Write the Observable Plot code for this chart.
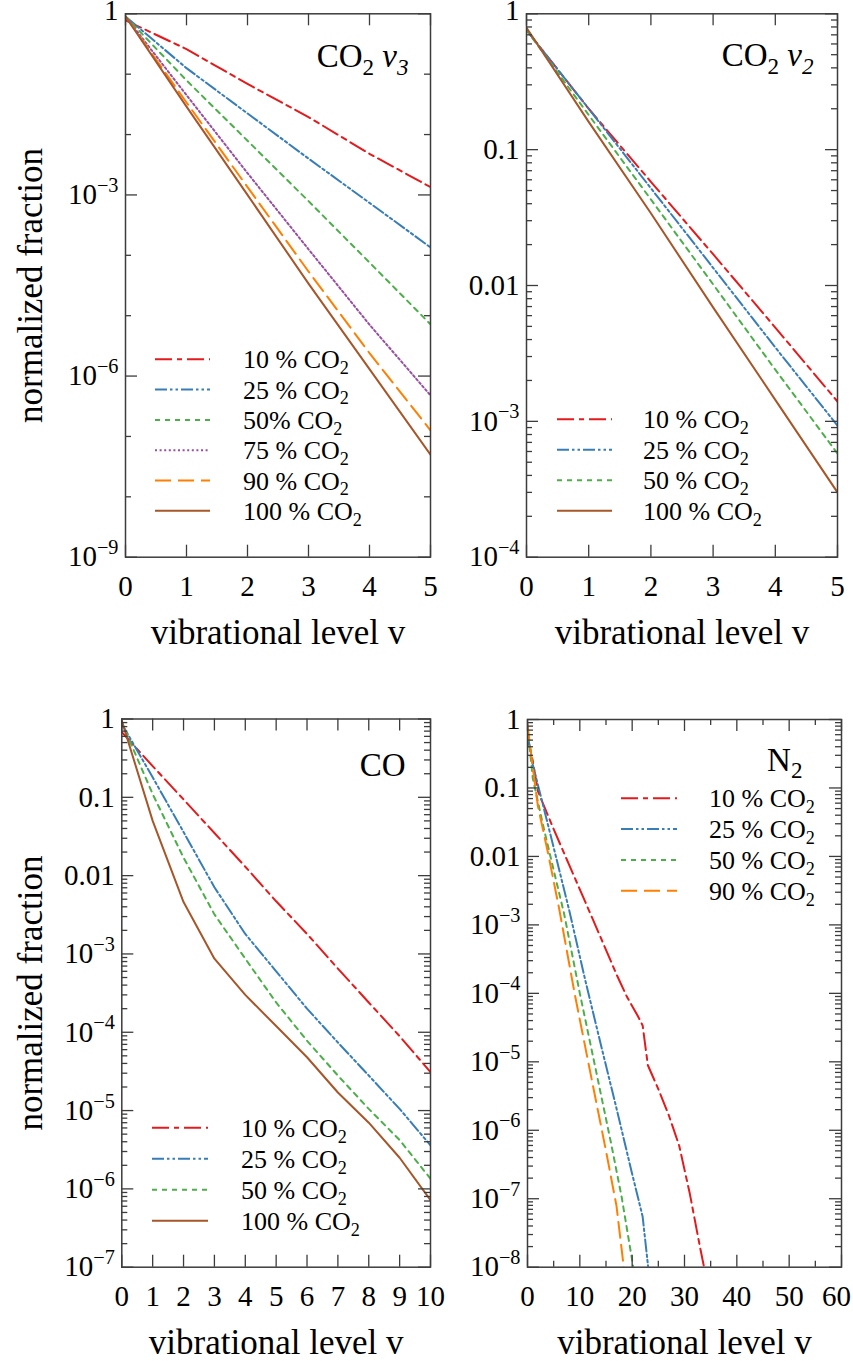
<!DOCTYPE html>
<html><head><meta charset="utf-8">
<script src="https://cdn.jsdelivr.net/npm/d3@7"></script>
<script src="https://cdn.jsdelivr.net/npm/@observablehq/plot@0.6"></script>
<style>
html,body{margin:0;padding:0;background:#fff;}
#chart{position:relative;width:853px;height:1361px;overflow:hidden;}
</style></head><body><div id="chart"></div>
<script>
// ---------------- DATA ----------------
// CO2 v3 panel (vibrational levels 0..5)
const co2v3Levels = [0, 1, 2, 3, 4, 5];
const co2v3_10  = [0.78, 0.26, 0.069, 0.0195, 4.8e-3, 1.35e-3];
const co2v3_25  = [0.9, 0.126, 0.0224, 4.0e-3, 7.4e-4, 1.35e-4];
const co2v3_50  = [0.9, 0.079, 7.9e-3, 7.9e-4, 7.6e-5, 7.2e-6];
const co2v3_75  = [0.9, 0.045, 2.3e-3, 1.26e-4, 7.1e-6, 4.8e-7];
const co2v3_90  = [0.9, 0.034, 1.35e-3, 5.4e-5, 2.4e-6, 1.26e-7];
const co2v3_100 = [0.9, 0.029, 1.0e-3, 3.4e-5, 1.3e-6, 5.0e-8];

// CO2 v2 panel (levels 0..5)
const co2v2Levels = [0, 1, 2, 3, 4, 5];
const co2v2_10  = [0.76, 0.20, 0.058, 0.017, 4.9e-3, 1.4e-3];
const co2v2_25  = [0.76, 0.20, 0.052, 0.0135, 3.5e-3, 9.3e-4];
const co2v2_50  = [0.76, 0.18, 0.043, 0.0102, 2.4e-3, 5.8e-4];
const co2v2_100 = [0.79, 0.16, 0.034, 6.9e-3, 1.44e-3, 3.0e-4];

// CO panel (levels 0..10)
const coLevels = [0, 1, 2, 3, 4, 5, 6, 7, 8, 9, 10];
const co_10  = [0.68, 0.25, 0.094, 0.035, 0.013, 4.7e-3, 1.8e-3, 6.5e-4, 2.4e-4, 8.9e-5, 3.1e-5];
const co_25  = [0.87, 0.18, 0.036, 7.1e-3, 1.8e-3, 6.0e-4, 2.0e-4, 7.4e-5, 2.8e-5, 1.05e-5, 3.6e-6];
const co_50  = [0.9, 0.11, 0.017, 3.2e-3, 8.7e-4, 2.4e-4, 7.8e-5, 2.8e-5, 1.05e-5, 4.2e-6, 1.35e-6];
const co_100 = [0.95, 0.05, 4.6e-3, 8.7e-4, 3.0e-4, 1.2e-4, 4.8e-5, 1.7e-5, 7.0e-6, 2.5e-6, 7.2e-7];

// N2 panel
const n2Levels_10 = [0, 1, 2, 5, 8, 11, 14, 17, 19, 21, 22, 23, 25, 27, 29, 31, 33, 34];
const n2_10 = [0.56, 0.25, 0.089, 0.025, 7.4e-3, 2.2e-3, 6.5e-4, 1.9e-4, 8.9e-5, 4.8e-5, 3.4e-5, 8.9e-6, 4.0e-6, 1.66e-6, 5.9e-7, 1.2e-7, 1.9e-8, 8e-9];
const n2Levels_25 = [0, 1, 3, 5, 8, 11, 14, 17, 20, 22, 23, 24];
const n2_25 = [0.63, 0.22, 0.055, 0.0135, 1.6e-3, 1.6e-4, 1.8e-5, 2.1e-6, 2.3e-7, 5.5e-8, 1.1e-8, 3e-9];
const n2Levels_50 = [0, 1, 3, 5, 7, 10, 13, 16, 18, 20, 21];
const n2_50 = [0.8, 0.14, 0.028, 6.3e-3, 1.45e-3, 1.0e-4, 8e-6, 6.3e-7, 1.05e-7, 1.26e-8, 4e-9];
const n2Levels_90 = [0, 1, 2, 4, 6, 9, 12, 15, 17, 18, 19];
const n2_90 = [0.85, 0.2, 0.054, 0.0105, 1.8e-3, 1.0e-4, 7e-6, 5e-7, 7.9e-8, 1.8e-8, 4e-9];

// Tick values and labels
const xTicks05 = [0, 1, 2, 3, 4, 5];
const xTicks010 = [0, 1, 2, 3, 4, 5, 6, 7, 8, 9, 10];
const xTicksN2 = [0, 10, 20, 30, 40, 50, 60];
const xMinorN2 = [5, 15, 25, 35, 45, 55];
const yTicksP1 = [1, 1e-3, 1e-6, 1e-9];
const yLabelsP1 = ["1", "10^−3", "10^−6", "10^−9"];
const yMinorP1 = [1e-1, 1e-2, 1e-4, 1e-5, 1e-7, 1e-8];
const yTicksP2 = [1, 0.1, 0.01, 1e-3, 1e-4];
const yLabelsP2 = ["1", "0.1", "0.01", "10^−3", "10^−4"];
const yTicksP3 = [1, 0.1, 0.01, 1e-3, 1e-4, 1e-5, 1e-6, 1e-7];
const yLabelsP3 = ["1", "0.1", "0.01", "10^−3", "10^−4", "10^−5", "10^−6", "10^−7"];
const yTicksP4 = [1, 0.1, 0.01, 1e-3, 1e-4, 1e-5, 1e-6, 1e-7, 1e-8];
const yLabelsP4 = ["1", "0.1", "0.01", "10^−3", "10^−4", "10^−5", "10^−6", "10^−7", "10^−8"];

// Legend labels
const legendP1 = ["10 % CO_2", "25 % CO_2", "50% CO_2", "75 % CO_2", "90 % CO_2", "100 % CO_2"];
const legendP2 = ["10 % CO_2", "25 % CO_2", "50 % CO_2", "100 % CO_2"];
const legendP3 = ["10 % CO_2", "25 % CO_2", "50 % CO_2", "100 % CO_2"];
const legendP4 = ["10 % CO_2", "25 % CO_2", "50 % CO_2", "90 % CO_2"];

const titles = ["CO_2 ~v_3", "CO_2 ~v_2", "CO", "N_2"];
const xTitle = "vibrational level v";
const yTitle = "normalized fraction";

// ---------------- STYLE ----------------
const FONT = '"Liberation Serif", "Times New Roman", serif';
const INK = "#3c3c3c";
const TICKFS = 29;
const lineStyle = {
  "10":  {color: "#e41a1c", dash: "17,5,5,5"},
  "25":  {color: "#377eb8", dash: "12,3,2.5,3,2.5,3"},
  "50":  {color: "#4daf4a", dash: "5,5"},
  "75":  {color: "#984ea3", dash: "2,2.6"},
  "90":  {color: "#ff7f00", dash: "16,7"},
  "100": {color: "#a65628", dash: null}
};

const NS = "http://www.w3.org/2000/svg";
function richText(el, str, fs) {
  while (el.firstChild) el.removeChild(el.firstChild);
  let italic = false, shift = 0, buf = "";
  const add = (txt, opts = {}) => {
    const t = document.createElementNS(NS, "tspan");
    t.textContent = txt;
    if (italic) t.setAttribute("font-style", "italic");
    const target = opts.shift || 0;
    if (target !== shift) { t.setAttribute("dy", target - shift); shift = target; }
    if (opts.small) t.setAttribute("font-size", fs * 0.7);
    el.appendChild(t);
  };
  const flush = () => { if (buf) { add(buf); buf = ""; } };
  for (let i = 0; i < str.length; i++) {
    const c = str[i];
    if (c === "~") { flush(); italic = !italic; }
    else if (c === "_") { flush(); add(str[++i], {shift: 0.22 * fs, small: true}); }
    else if (c === "^") { flush(); add(str.slice(i + 1), {shift: -0.42 * fs, small: true}); i = str.length; }
    else buf += c;
  }
  flush();
}

function toRows(levels, values) { return levels.map((v, i) => ({v, f: values[i]})); }

function logMinor(lo, hi) {
  const out = [];
  for (let e = Math.floor(Math.log10(lo)); e < Math.ceil(Math.log10(hi)); e++)
    for (let k = 2; k <= 9; k++) { const val = k * Math.pow(10, e); if (val > lo && val < hi) out.push(val); }
  return out;
}

const chart = document.getElementById("chart");

function panel(cfg) {
  const m = cfg.margin;
  const innerW = cfg.width - m.left - m.right;
  const innerH = cfg.height - m.top - m.bottom;
  const tk = {stroke: INK, strokeWidth: 1.3};
  const marks = [];
  for (const s of cfg.series) {
    const st = lineStyle[s.key];
    marks.push(Plot.line(toRows(s.levels, s.values), {
      x: "v", y: "f", stroke: st.color, strokeWidth: 2,
      strokeDasharray: st.dash || undefined, clip: true
    }));
  }
  const major = 12, minor = 6;
  marks.push(Plot.tickX(cfg.xTicks, {x: d => d, ...tk, insetTop: innerH - major}));
  marks.push(Plot.tickX(cfg.xTicks, {x: d => d, ...tk, insetBottom: innerH - major}));
  if (cfg.xMinor) {
    marks.push(Plot.tickX(cfg.xMinor, {x: d => d, ...tk, insetTop: innerH - minor}));
    marks.push(Plot.tickX(cfg.xMinor, {x: d => d, ...tk, insetBottom: innerH - minor}));
  }
  marks.push(Plot.tickY(cfg.yTicks, {y: d => d, ...tk, insetRight: innerW - major}));
  marks.push(Plot.tickY(cfg.yTicks, {y: d => d, ...tk, insetLeft: innerW - major}));
  marks.push(Plot.tickY(cfg.yMinor, {y: d => d, ...tk, insetRight: innerW - minor}));
  marks.push(Plot.tickY(cfg.yMinor, {y: d => d, ...tk, insetLeft: innerW - minor}));
  marks.push(Plot.frame({stroke: INK, strokeWidth: 1.5}));
  const yMap = new Map(cfg.yTicks.map((d, i) => [d, cfg.yLabels[i]]));
  marks.push(Plot.axisX(cfg.xTicks, {anchor: "bottom", tickSize: 0, tickPadding: 18, label: null, fontSize: TICKFS, tickFormat: d => String(d)}));
  marks.push(Plot.axisY(cfg.yTicks, {anchor: "left", tickSize: 0, tickPadding: 7, label: null, fontSize: TICKFS, tickFormat: d => yMap.get(d)}));
  marks.push(Plot.text([cfg.title], {text: d => d, frameAnchor: "top-right", textAnchor: "end", lineAnchor: "middle", dx: cfg.titleDx, dy: cfg.titleDy, fontSize: 33}));
  marks.push(Plot.text([xTitle], {text: d => d, frameAnchor: "bottom", textAnchor: "middle", lineAnchor: "bottom", dy: cfg.xTitleDy, fontSize: 35}));
  if (cfg.yTitleX != null) {
    marks.push(Plot.text([yTitle], {text: d => d, frameAnchor: "left", rotate: -90, textAnchor: "middle", lineAnchor: "bottom", dx: cfg.yTitleX - m.left, fontSize: 35}));
  }
  const svg = Plot.plot({
    width: cfg.width, height: cfg.height,
    marginLeft: m.left, marginRight: m.right, marginTop: m.top, marginBottom: m.bottom,
    x: {domain: cfg.xDomain},
    y: {type: "log", domain: cfg.yDomain},
    style: {background: "transparent", fontFamily: FONT, fontSize: TICKFS + "px", color: "#000", overflow: "visible"},
    marks
  });
  svg.style.position = "absolute";
  svg.style.left = cfg.left + "px";
  svg.style.top = cfg.top + "px";
  svg.style.maxWidth = "none";
  chart.appendChild(svg);
  svg.querySelectorAll("text").forEach(t => {
    const s = t.textContent;
    if (/[_^~]/.test(s)) richText(t, s, parseFloat(getComputedStyle(t).fontSize));
  });
  // keep tick labels inside the page edges
  const cr = chart.getBoundingClientRect();
  svg.querySelectorAll("text").forEach(t => {
    const r = t.getBoundingClientRect();
    const over = r.right - (cr.right - 2);
    if (over > 0) t.setAttribute("dx", -over);
    const top = (cr.top + 3) - r.top;
    if (top > 0) t.setAttribute("y", (parseFloat(t.getAttribute("y")) || 0) + top);
  });
}

panel({
  left: 0, top: 0, width: 440, height: 680,
  margin: {top: 13.3, right: 10, bottom: 123.3, left: 125},
  xDomain: [0, 5], yDomain: [1e-9, 1],
  xTicks: xTicks05, yTicks: yTicksP1, yLabels: yLabelsP1, yMinor: yMinorP1,
  series: [
    {key: "10", levels: co2v3Levels, values: co2v3_10},
    {key: "25", levels: co2v3Levels, values: co2v3_25},
    {key: "50", levels: co2v3Levels, values: co2v3_50},
    {key: "75", levels: co2v3Levels, values: co2v3_75},
    {key: "90", levels: co2v3Levels, values: co2v3_90},
    {key: "100", levels: co2v3Levels, values: co2v3_100}
  ],
  title: titles[0], titleDx: -22, titleDy: 43, xTitleDy: 87, yTitleX: 41
});

panel({
  left: 440, top: 0, width: 413, height: 680,
  margin: {top: 13.3, right: 16, bottom: 123.3, left: 86},
  xDomain: [0, 5], yDomain: [1e-4, 1],
  xTicks: xTicks05, yTicks: yTicksP2, yLabels: yLabelsP2, yMinor: logMinor(1e-4, 1),
  series: [
    {key: "10", levels: co2v2Levels, values: co2v2_10},
    {key: "25", levels: co2v2Levels, values: co2v2_25},
    {key: "50", levels: co2v2Levels, values: co2v2_50},
    {key: "100", levels: co2v2Levels, values: co2v2_100}
  ],
  title: titles[1], titleDx: -24, titleDy: 42, xTitleDy: 87, yTitleX: null
});

panel({
  left: 0, top: 680, width: 440, height: 681,
  margin: {top: 38.5, right: 10, bottom: 94.3, left: 121.3},
  xDomain: [0, 10], yDomain: [1e-7, 1],
  xTicks: xTicks010, yTicks: yTicksP3, yLabels: yLabelsP3, yMinor: logMinor(1e-7, 1),
  series: [
    {key: "10", levels: coLevels, values: co_10},
    {key: "25", levels: coLevels, values: co_25},
    {key: "50", levels: coLevels, values: co_50},
    {key: "100", levels: coLevels, values: co_100}
  ],
  title: titles[2], titleDx: -25, titleDy: 46, xTitleDy: 86.3, yTitleX: 41
});

panel({
  left: 440, top: 680, width: 413, height: 681,
  margin: {top: 39, right: 12, bottom: 94.3, left: 87},
  xDomain: [0, 60], yDomain: [1e-8, 1],
  xTicks: xTicksN2, xMinor: xMinorN2, yTicks: yTicksP4, yLabels: yLabelsP4, yMinor: logMinor(1e-8, 1),
  series: [
    {key: "10", levels: n2Levels_10, values: n2_10},
    {key: "25", levels: n2Levels_25, values: n2_25},
    {key: "50", levels: n2Levels_50, values: n2_50},
    {key: "90", levels: n2Levels_90, values: n2_90}
  ],
  title: titles[3], titleDx: -39, titleDy: 41, xTitleDy: 86.3, yTitleX: null
});

// ---------------- LEGENDS ----------------
const overlay = d3.select(chart).append("svg")
  .attr("width", 853).attr("height", 1361)
  .style("position", "absolute").style("left", "0px").style("top", "0px")
  .style("pointer-events", "none");

function drawLegend(keys, labels, pos) {
  keys.forEach((k, i) => {
    const st = lineStyle[k];
    const y = pos.y0 + i * pos.step;
    overlay.append("line")
      .attr("x1", pos.x0).attr("x2", pos.x1).attr("y1", y).attr("y2", y)
      .attr("stroke", st.color).attr("stroke-width", 2)
      .attr("stroke-dasharray", st.dash || null);
    const t = overlay.append("text")
      .attr("x", pos.tx).attr("y", y).attr("dy", "0.35em")
      .attr("font-size", 26).attr("font-family", FONT).attr("fill", "#000");
    richText(t.node(), labels[i], 26);
  });
}
drawLegend(["10", "25", "50", "75", "90", "100"], legendP1, {x0: 155, x1: 210, tx: 243, y0: 359.3, step: 30.3});
drawLegend(["10", "25", "50", "100"], legendP2, {x0: 557, x1: 612, tx: 643, y0: 419.2, step: 30.5});
drawLegend(["10", "25", "50", "100"], legendP3, {x0: 152, x1: 208, tx: 241, y0: 1127.7, step: 31});
drawLegend(["10", "25", "50", "90"], legendP4, {x0: 621, x1: 677, tx: 709, y0: 798.3, step: 30.8});
</script>
</body></html>
